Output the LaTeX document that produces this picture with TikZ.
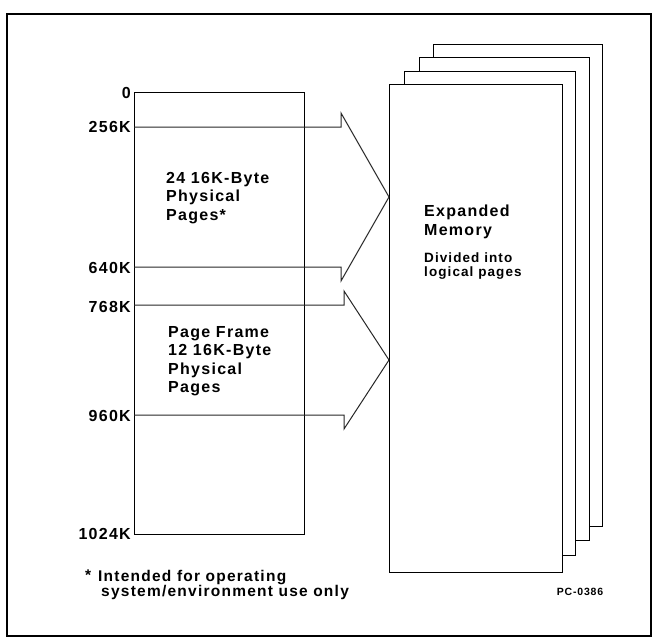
\documentclass[tikz,border=0pt]{standalone}
\usepackage{fontspec}
\setmainfont{Liberation Sans}[LetterSpace=8]
\begin{document}
\begin{tikzpicture}[x=1pt,y=-1pt,
  lbl/.style={anchor=east, inner sep=0pt, font=\fontsize{16}{18.5}\selectfont\bfseries},
  txt/.style={anchor=north west, inner sep=0pt, align=left, font=\fontsize{16}{18.5}\selectfont\bfseries},
  small/.style={anchor=north west, inner sep=0pt, align=left, font=\fontsize{13.5}{13.5}\selectfont\bfseries},
  note/.style={anchor=north west, inner sep=0pt, align=left, font=\fontsize{15.5}{15.5}\selectfont\bfseries},
  arr/.style={line width=1pt, line join=miter, black!85},
  page/.style={draw, fill=white, line width=1.2pt, inner sep=0pt, anchor=north west},
  membox/.style={draw, line width=1.3pt, inner sep=0pt, anchor=north west}]
\useasboundingbox (0,0) rectangle (657,643);
\draw[line width=1.3pt] (7,14) rectangle (651,636);

% stack of logical pages (back to front)
\node[page, minimum width=169pt, minimum height=482pt] (pg4) at (433,44) {};
\node[page, minimum width=170pt, minimum height=483pt] (pg3) at (419,57) {};
\node[page, minimum width=171pt, minimum height=484pt] (pg2) at (404,71) {};
\node[page, minimum width=173pt, minimum height=488pt] (pg1) at (389,84) {};

\node[txt] (exp) at (424,205) {Expanded\\Memory};
\node[small] (div) at (424,253) {Divided into\\logical pages};

% physical memory map
\node[membox, minimum width=170pt, minimum height=442pt] (mem) at (134,92) {};

\coordinate (m256) at (mem.west |- 0,127);
\coordinate (m640) at (mem.west |- 0,267);
\coordinate (m768) at (mem.west |- 0,305);
\coordinate (m960) at (mem.west |- 0,415);
\coordinate (a1) at (341,127);
\coordinate (a2) at (341,113);
\coordinate (t1) at (pg1.west |- 0,197);
\coordinate (a3) at (341,281);
\coordinate (a4) at (341,267);
\coordinate (b1) at (344,305);
\coordinate (b2) at (344,291);
\coordinate (t2) at (pg1.west |- 0,360);
\coordinate (b3) at (344,429);
\coordinate (b4) at (344,415);

\draw[arr] (m256) -- (a1) -- (a2) -- (t1) -- (a3) -- (a4) -- (m640);
\draw[arr] (m768) -- (b1) -- (b2) -- (t2) -- (b3) -- (b4) -- (m960);

\node[lbl] (l0) at (131,93) {0};
\node[lbl] (l256) at (131,127) {256K};
\node[lbl] (l640) at (131,268) {640K};
\node[lbl] (l768) at (131,307) {768K};
\node[lbl] (l960) at (131,416) {960K};
\node[lbl] (l1024) at (131,534) {1024K};

\node[txt] (conv) at (166,172) {24 16K-Byte\\Physical\\Pages*};
\node[txt] (frame) at (168,326) {Page Frame\\12 16K-Byte\\Physical\\Pages};

\node[note] (star) at (85,570) {*};
\node[note] (fn) at (98,570) {Intended for operating\\\hspace{3pt}system/environment use only};

\node[inner sep=0pt, font=\fontsize{10.5}{12}\selectfont\bfseries] (pc) at (580,592) {PC-0386};
\end{tikzpicture}
\end{document}
